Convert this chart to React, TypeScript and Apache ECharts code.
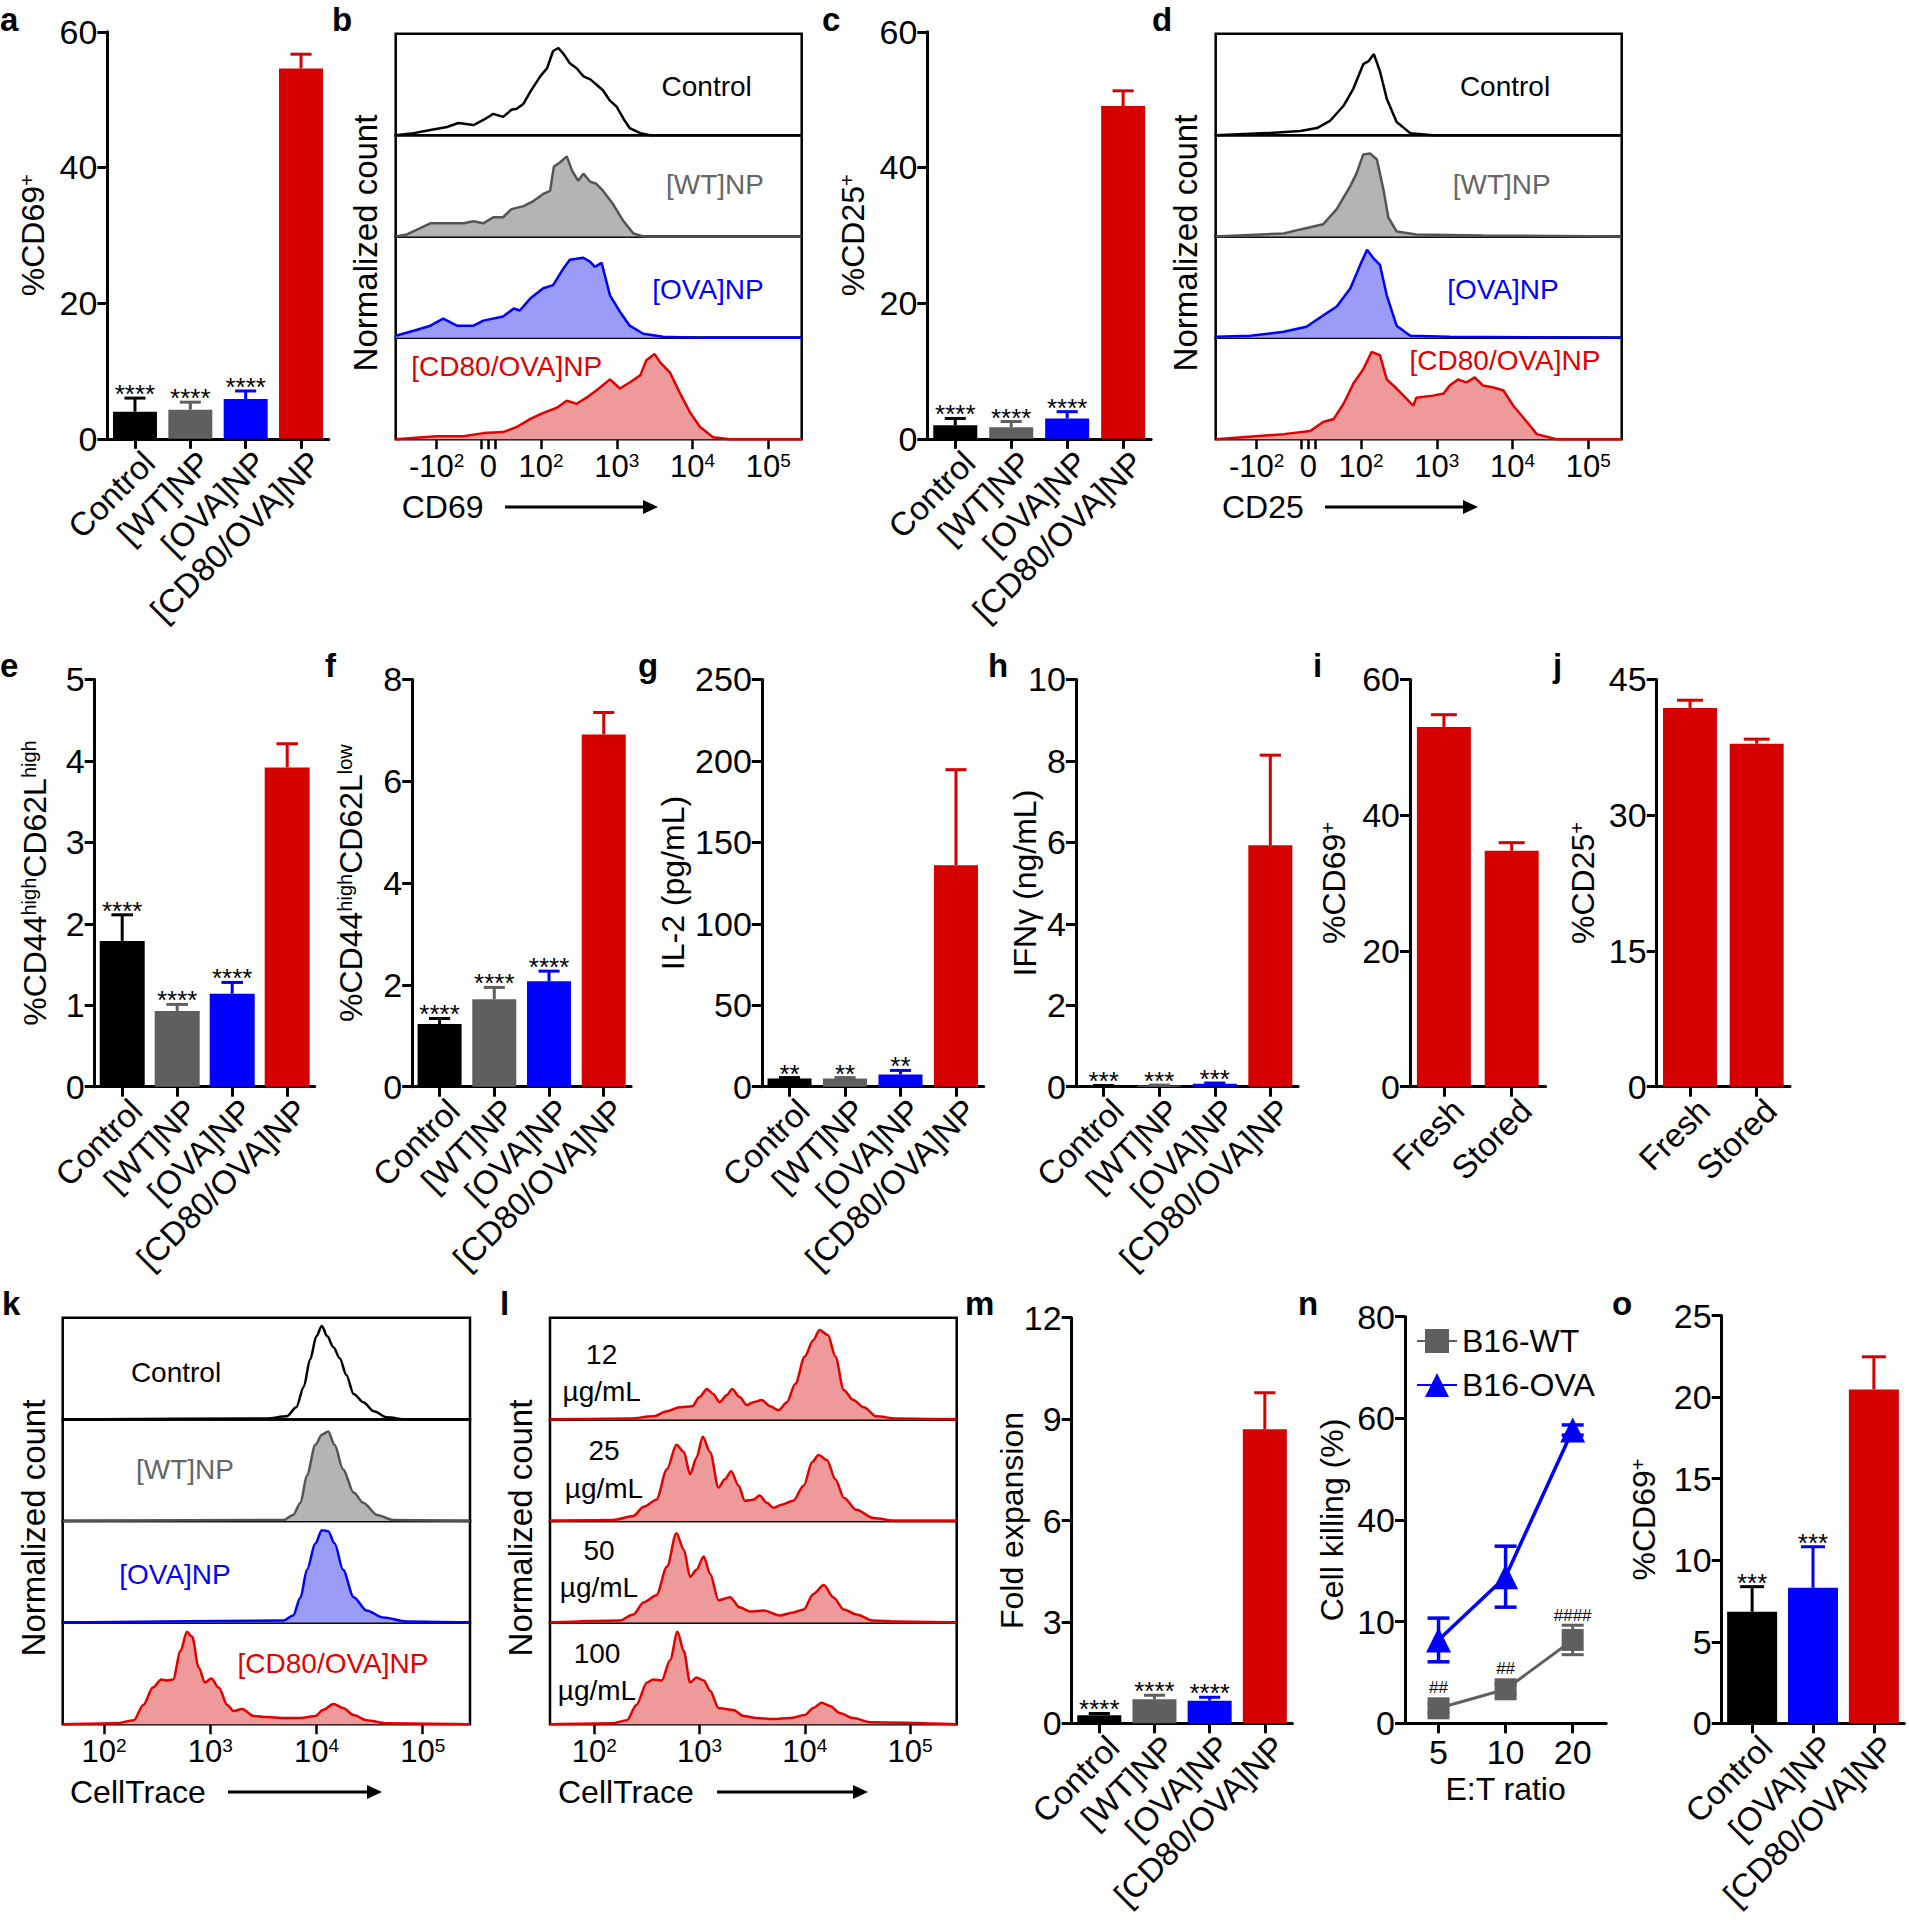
import { useEffect, useRef } from 'react';
import * as echarts from 'echarts';

const FONT = '"Liberation Sans", Arial, Helvetica, sans-serif';
const BLACK = '#000000';
const GRAY = '#5f5f5f';
const BLUE = '#0000ff';
const RED = '#d50000';
const HRED = '#e30000';

// ---------------- categories ----------------
const groups4 = ['Control', '[WT]NP', '[OVA]NP', '[CD80/OVA]NP'];
const groups3 = ['Control', '[OVA]NP', '[CD80/OVA]NP'];
const storage = ['Fresh', 'Stored'];
const etRatios = ['5', '10', '20'];
const doses = ['12', '25', '50', '100'];
const doseUnit = 'µg/mL';
const colors4 = [BLACK, GRAY, BLUE, RED];
const colors3 = [BLACK, BLUE, RED];
const colors2 = [RED, RED];

// ---------------- bar values (mean, SD) ----------------
const aMean = [4.0, 4.3, 5.85, 54.6];
const aErr = [2.0, 1.1, 1.2, 2.1];
const cMean = [2.0, 1.7, 3.0, 49.05];
const cErr = [1.0, 0.85, 1.0, 2.25];
const eMean = [1.79, 0.93, 1.14, 3.92];
const eErr = [0.32, 0.08, 0.14, 0.29];
const fMean = [1.23, 1.72, 2.07, 6.92];
const fErr = [0.11, 0.23, 0.2, 0.43];
const gMean = [5, 5, 7.5, 136];
const gErr = [0.6, 0.6, 2.5, 58.6];
const hMean = [0.02, 0.03, 0.07, 5.93];
const hErr = [0.01, 0.01, 0.02, 2.21];
const iMean = [53.0, 34.75];
const iErr = [1.8, 1.2];
const jMean = [41.84, 37.9];
const jErr = [0.86, 0.5];
const mMean = [0.24, 0.71, 0.67, 8.7];
const mErr = [0.05, 0.12, 0.1, 1.08];
const oMean = [6.84, 8.31, 20.48];
const oErr = [1.54, 2.52, 2.0];

const stars4 = ['****', '****', '****', ''];
const stars4g = ['**', '**', '**', ''];
const stars4h = ['***', '***', '***', ''];
const stars3 = ['***', '***', ''];
const stars2 = ['', ''];

// ---------------- panel n ----------------
const nWTMean = [2.95, 6.69, 16.4];
const nWTErr = [0.8, 0.9, 2.9];
const nOVAMean = [16.4, 28.85, 57.7];
const nOVAErr = [4.3, 6.0, 1.0];
const nWTAnno = ['##', '##', '####'];
const nTickLabels = ['0', '10', '40', '60', '80'];

// ---------------- histogram axes (decade units) ----------------
const biexTicks = [0.624, 1.217, 1.305, 1.393, 2, 3, 4, 5];
const biexLabelPos = [0.624, 1.305, 2, 3, 4, 5];
const biexLabels = ['{b|-10}{s|2}', '{b|0}', '{b|10}{s|2}', '{b|10}{s|3}', '{b|10}{s|4}', '{b|10}{s|5}'];
const logTicks = [2, 3, 4, 5];
const logLabels = ['{b|10}{s|2}', '{b|10}{s|3}', '{b|10}{s|4}', '{b|10}{s|5}'];

// ---------------- histograms: [position, normalized count] ----------------
const bControl = [[0.083, 0], [0.32, 0.02], [0.54, 0.05], [0.76, 0.08], [0.91, 0.12], [1.11, 0.1], [1.24, 0.15], [1.37, 0.21], [1.5, 0.18], [1.61, 0.25], [1.68, 0.26], [1.77, 0.31], [1.86, 0.43], [1.99, 0.58], [2.08, 0.66], [2.16, 0.83], [2.23, 0.86], [2.3, 0.8], [2.38, 0.71], [2.47, 0.66], [2.56, 0.58], [2.65, 0.55], [2.73, 0.5], [2.82, 0.44], [2.91, 0.34], [3.0, 0.28], [3.09, 0.16], [3.17, 0.07], [3.31, 0.02], [3.44, 0], [5.44, 0]];
const bWT = [[0.083, 0], [0.23, 0.02], [0.4, 0.08], [0.54, 0.13], [0.76, 0.13], [0.98, 0.13], [1.11, 0.15], [1.24, 0.13], [1.37, 0.19], [1.5, 0.19], [1.61, 0.27], [1.77, 0.3], [1.9, 0.35], [2.03, 0.42], [2.12, 0.45], [2.17, 0.69], [2.25, 0.73], [2.34, 0.79], [2.41, 0.65], [2.49, 0.55], [2.56, 0.62], [2.65, 0.54], [2.73, 0.52], [2.82, 0.45], [2.95, 0.32], [3.09, 0.15], [3.22, 0.03], [3.35, 0], [5.44, 0]];
const bOVA = [[0.083, 0.02], [0.32, 0.07], [0.54, 0.12], [0.71, 0.19], [0.89, 0.12], [1.11, 0.12], [1.24, 0.17], [1.5, 0.21], [1.64, 0.29], [1.72, 0.27], [1.86, 0.39], [2.03, 0.49], [2.16, 0.52], [2.3, 0.69], [2.38, 0.77], [2.56, 0.79], [2.65, 0.75], [2.71, 0.7], [2.8, 0.74], [2.91, 0.42], [3.04, 0.26], [3.17, 0.12], [3.35, 0.04], [3.61, 0.01], [4.05, 0], [5.44, 0]];
const bCD80 = [[0.083, 0], [0.62, 0.03], [0.98, 0.03], [1.24, 0.06], [1.5, 0.07], [1.68, 0.12], [1.86, 0.2], [2.03, 0.26], [2.21, 0.31], [2.34, 0.38], [2.47, 0.35], [2.6, 0.41], [2.73, 0.48], [2.91, 0.59], [3.04, 0.5], [3.17, 0.56], [3.31, 0.63], [3.39, 0.78], [3.5, 0.84], [3.57, 0.76], [3.7, 0.66], [3.83, 0.46], [3.97, 0.26], [4.1, 0.12], [4.27, 0.02], [4.49, 0], [5.44, 0]];

const dControl = [[0.083, 0], [0.76, 0.02], [1.2, 0.04], [1.42, 0.07], [1.59, 0.14], [1.77, 0.29], [1.9, 0.46], [2.03, 0.7], [2.1, 0.73], [2.17, 0.8], [2.25, 0.63], [2.34, 0.36], [2.47, 0.13], [2.65, 0.02], [2.95, 0], [5.44, 0]];
const dWT = [[0.083, 0], [0.98, 0.03], [1.2, 0.07], [1.5, 0.12], [1.68, 0.27], [1.86, 0.5], [1.94, 0.62], [2.03, 0.81], [2.12, 0.82], [2.21, 0.76], [2.3, 0.45], [2.36, 0.19], [2.47, 0.05], [2.73, 0.02], [3.61, 0.01], [5.44, 0]];
const dOVA = [[0.083, 0.01], [0.54, 0.02], [0.98, 0.06], [1.28, 0.11], [1.5, 0.22], [1.68, 0.31], [1.86, 0.49], [1.99, 0.72], [2.08, 0.87], [2.16, 0.79], [2.25, 0.72], [2.34, 0.42], [2.47, 0.12], [2.65, 0.02], [3.17, 0.01], [5.44, 0]];
const dCD80 = [[0.083, 0], [0.98, 0.05], [1.33, 0.08], [1.5, 0.17], [1.64, 0.2], [1.77, 0.35], [1.9, 0.55], [2.03, 0.69], [2.14, 0.86], [2.25, 0.83], [2.34, 0.59], [2.47, 0.5], [2.6, 0.4], [2.69, 0.33], [2.73, 0.41], [2.95, 0.43], [3.09, 0.45], [3.17, 0.53], [3.28, 0.59], [3.39, 0.56], [3.5, 0.61], [3.61, 0.53], [3.75, 0.51], [3.88, 0.48], [4.01, 0.33], [4.19, 0.17], [4.32, 0.05], [4.58, 0], [5.44, 0]];

const kControl = [[1.611, 0], [3.53, 0.01], [3.72, 0.03], [3.81, 0.12], [3.88, 0.32], [3.94, 0.59], [4.0, 0.82], [4.05, 0.92], [4.1, 0.82], [4.16, 0.71], [4.22, 0.6], [4.28, 0.44], [4.35, 0.25], [4.44, 0.17], [4.54, 0.08], [4.66, 0.02], [4.85, 0], [5.445, 0]];
const kWT = [[1.611, 0], [3.69, 0.01], [3.78, 0.06], [3.85, 0.18], [3.91, 0.45], [3.99, 0.75], [4.05, 0.85], [4.11, 0.88], [4.17, 0.75], [4.25, 0.51], [4.35, 0.28], [4.44, 0.18], [4.57, 0.06], [4.72, 0.01], [5.445, 0]];
const kOVA = [[1.611, 0], [3.69, 0.02], [3.78, 0.07], [3.85, 0.25], [3.91, 0.52], [3.99, 0.78], [4.05, 0.91], [4.11, 0.9], [4.17, 0.78], [4.25, 0.52], [4.35, 0.25], [4.47, 0.12], [4.63, 0.05], [4.85, 0.01], [5.445, 0]];
const kCD80 = [[1.611, 0], [2.12, 0.01], [2.28, 0.04], [2.37, 0.19], [2.46, 0.36], [2.54, 0.44], [2.59, 0.43], [2.65, 0.44], [2.72, 0.72], [2.78, 0.91], [2.83, 0.86], [2.89, 0.56], [2.95, 0.41], [3.01, 0.45], [3.08, 0.36], [3.16, 0.19], [3.22, 0.13], [3.3, 0.15], [3.41, 0.08], [3.53, 0.07], [3.69, 0.06], [3.85, 0.06], [3.99, 0.08], [4.06, 0.14], [4.16, 0.2], [4.25, 0.16], [4.35, 0.09], [4.47, 0.04], [4.66, 0.01], [5.445, 0]];

const l12 = [[1.579, 0], [2.34, 0.01], [2.56, 0.03], [2.69, 0.08], [2.81, 0.12], [2.93, 0.13], [3.0, 0.22], [3.07, 0.3], [3.13, 0.25], [3.19, 0.17], [3.26, 0.24], [3.31, 0.3], [3.38, 0.22], [3.45, 0.14], [3.51, 0.17], [3.59, 0.19], [3.67, 0.13], [3.75, 0.09], [3.83, 0.17], [3.91, 0.35], [4.0, 0.62], [4.08, 0.78], [4.14, 0.88], [4.22, 0.83], [4.29, 0.62], [4.37, 0.29], [4.46, 0.19], [4.56, 0.12], [4.68, 0.03], [4.87, 0.01], [5.443, 0]];
const l25 = [[1.579, 0], [2.18, 0.01], [2.37, 0.05], [2.47, 0.14], [2.59, 0.21], [2.69, 0.51], [2.78, 0.75], [2.85, 0.68], [2.91, 0.46], [2.97, 0.62], [3.03, 0.83], [3.1, 0.68], [3.18, 0.33], [3.24, 0.41], [3.3, 0.49], [3.37, 0.35], [3.43, 0.2], [3.51, 0.21], [3.57, 0.25], [3.64, 0.18], [3.7, 0.13], [3.78, 0.16], [3.89, 0.2], [3.99, 0.35], [4.07, 0.58], [4.13, 0.65], [4.21, 0.6], [4.29, 0.41], [4.37, 0.23], [4.49, 0.11], [4.65, 0.03], [4.87, 0], [5.443, 0]];
const l50 = [[1.579, 0], [2.24, 0.02], [2.37, 0.08], [2.47, 0.2], [2.59, 0.27], [2.69, 0.55], [2.78, 0.88], [2.85, 0.72], [2.91, 0.45], [2.97, 0.52], [3.04, 0.65], [3.1, 0.48], [3.18, 0.22], [3.29, 0.25], [3.38, 0.15], [3.48, 0.11], [3.61, 0.12], [3.76, 0.07], [3.89, 0.1], [3.99, 0.13], [4.08, 0.28], [4.18, 0.37], [4.27, 0.25], [4.37, 0.13], [4.49, 0.08], [4.65, 0.02], [4.87, 0.01], [5.443, 0]];
const l100 = [[1.579, 0], [2.18, 0.01], [2.31, 0.04], [2.4, 0.19], [2.5, 0.41], [2.56, 0.44], [2.64, 0.43], [2.72, 0.63], [2.79, 0.91], [2.85, 0.72], [2.91, 0.41], [2.97, 0.46], [3.04, 0.43], [3.1, 0.33], [3.18, 0.16], [3.32, 0.14], [3.42, 0.08], [3.54, 0.06], [3.7, 0.05], [3.86, 0.06], [4.0, 0.09], [4.08, 0.16], [4.16, 0.21], [4.24, 0.18], [4.33, 0.11], [4.46, 0.06], [4.62, 0.02], [5.443, 0]];

// ---------------- helpers ----------------
const supRich = (n: number, s: number) => ({
  n: { fontSize: n, fontFamily: FONT, color: '#000' },
  s: { fontSize: s, fontFamily: FONT, color: '#000', verticalAlign: 'top' },
  b: { fontSize: n, fontFamily: FONT, color: '#000' },
});

function errorSeries(gi: number, mean: number[], err: number[], colors: string[], opts: any) {
  const both = !!opts.both;
  const capW = opts.capW ?? 22;
  const lw = opts.lw ?? 3;
  const labels: string[] = opts.labels || [];
  const labelSize = opts.labelSize ?? 26;
  const marker = opts.marker ?? 0;
  const gap = opts.gap ?? 4;
  return {
    type: 'custom',
    xAxisIndex: gi,
    yAxisIndex: gi,
    silent: true,
    z: opts.z ?? 3,
    data: mean.map((m, i) => [i, m, err[i]]),
    renderItem: (params: any, api: any) => {
      const k = params.dataIndex;
      const x = api.value(0);
      const m = api.value(1);
      const e = api.value(2);
      const pm = api.coord([x, m]);
      const pt = api.coord([x, m + e]);
      const pb = both ? api.coord([x, m - e]) : pm;
      const col = colors[k];
      const ch: any[] = [
        { type: 'line', shape: { x1: pt[0], y1: pt[1], x2: pb[0], y2: pb[1] }, style: { stroke: col, lineWidth: lw } },
        { type: 'line', shape: { x1: pt[0] - capW / 2, y1: pt[1], x2: pt[0] + capW / 2, y2: pt[1] }, style: { stroke: col, lineWidth: lw } },
      ];
      if (both) {
        ch.push({ type: 'line', shape: { x1: pb[0] - capW / 2, y1: pb[1], x2: pb[0] + capW / 2, y2: pb[1] }, style: { stroke: col, lineWidth: lw } });
      }
      const lab = labels[k];
      if (lab) {
        const yTop = Math.min(pt[1], pm[1] - marker);
        ch.push({
          type: 'text',
          x: pt[0],
          y: yTop - gap,
          style: { text: lab, fill: '#000', font: `${labelSize}px ${FONT}`, textAlign: 'center', textVerticalAlign: 'middle', align: 'center', verticalAlign: 'middle' },
        });
      }
      return { type: 'group', children: ch };
    },
  };
}

function buildOption() {
  const grid: any[] = [];
  const xAxis: any[] = [];
  const yAxis: any[] = [];
  const series: any[] = [];
  const elements: any[] = [];

  const axisLineStyle = { color: '#000', width: 3 };

  // ---------- bar panels ----------
  const barPanels = [
    { left: 107.3, top: 31.8, width: 221.4, height: 407, max: 60, interval: 20, name: '{n|%CD69}{s|+}', nameGap: 58, cats: groups4, colors: colors4, mean: aMean, err: aErr, stars: stars4, barWidth: 44 },
    { left: 927.3, top: 31.8, width: 223.8, height: 407, max: 60, interval: 20, name: '{n|%CD25}{s|+}', nameGap: 58, cats: groups4, colors: colors4, mean: cMean, err: cErr, stars: stars4, barWidth: 44 },
    { left: 94.7, top: 679.4, width: 220, height: 407.3, max: 5, interval: 1, name: '{n|%CD44}{s|high}{n|CD62L}{s|high}', nameGap: 44, cats: groups4, colors: colors4, mean: eMean, err: eErr, stars: stars4, barWidth: 45 },
    { left: 412.2, top: 679.4, width: 218.9, height: 407.3, max: 8, interval: 2, name: '{n|%CD44}{s|high}{n|CD62L}{s|low}', nameGap: 45, cats: groups4, colors: colors4, mean: fMean, err: fErr, stars: stars4, barWidth: 44 },
    { left: 761.8, top: 679.4, width: 221.9, height: 407.3, max: 250, interval: 50, name: '{n|IL-2 (pg/mL)}', nameGap: 73, cats: groups4, colors: colors4, mean: gMean, err: gErr, stars: stars4g, barWidth: 44 },
    { left: 1075.9, top: 679.4, width: 222.2, height: 407.3, max: 10, interval: 2, name: '{n|IFNγ (ng/mL)}', nameGap: 35, cats: groups4, colors: colors4, mean: hMean, err: hErr, stars: stars4h, barWidth: 44 },
    { left: 1410, top: 679.4, width: 135.6, height: 407.3, max: 60, interval: 20, name: '{n|%CD69}{s|+}', nameGap: 60, cats: storage, colors: colors2, mean: iMean, err: iErr, stars: stars2, barWidth: 54 },
    { left: 1656.7, top: 679.4, width: 133.3, height: 407.3, max: 45, interval: 15, name: '{n|%CD25}{s|+}', nameGap: 58, cats: storage, colors: colors2, mean: jMean, err: jErr, stars: stars2, barWidth: 54 },
    { left: 1071.7, top: 1317.7, width: 220.7, height: 405.6, max: 12, interval: 3, name: '{n|Fold expansion}', nameGap: 44, cats: groups4, colors: colors4, mean: mMean, err: mErr, stars: stars4, barWidth: 44 },
    { left: 1721.7, top: 1315.7, width: 182.6, height: 407.6, max: 25, interval: 5, name: '{n|%CD69}{s|+}', nameGap: 62, cats: groups3, colors: colors3, mean: oMean, err: oErr, stars: stars3, barWidth: 50 },
  ];

  barPanels.forEach((p) => {
    const gi = grid.length;
    grid.push({ left: p.left, top: p.top, width: p.width, height: p.height, outerBoundsMode: 'none', containLabel: false });
    xAxis.push({
      gridIndex: gi,
      type: 'category',
      data: p.cats,
      axisLine: { show: true, lineStyle: axisLineStyle },
      axisTick: { show: true, alignWithLabel: true, length: 10, lineStyle: { color: '#000', width: 3 } },
      axisLabel: { rotate: 45, interval: 0, fontSize: 33, fontFamily: FONT, color: '#000', margin: 4, verticalAlign: 'top', lineHeight: 40, hideOverlap: false },
      splitLine: { show: false },
    });
    yAxis.push({
      gridIndex: gi,
      type: 'value',
      min: 0,
      max: p.max,
      interval: p.interval,
      name: p.name,
      nameLocation: 'middle',
      nameGap: p.nameGap,
      nameMoveOverlap: false,
      nameTextStyle: { fontSize: 32, fontFamily: FONT, color: '#000', rich: supRich(32, 20) },
      axisLine: { show: true, lineStyle: axisLineStyle },
      axisTick: { show: true, length: 10, lineStyle: { color: '#000', width: 3 } },
      axisLabel: { fontSize: 34, fontFamily: FONT, color: '#000', margin: 10 },
      splitLine: { show: false },
    });
    series.push({
      type: 'bar',
      xAxisIndex: gi,
      yAxisIndex: gi,
      barWidth: p.barWidth,
      silent: true,
      z: 2,
      data: p.mean.map((v, i) => ({ value: v, itemStyle: { color: p.colors[i] } })),
    });
    series.push(errorSeries(gi, p.mean, p.err, p.colors, { capW: p.barWidth * 0.48, labels: p.stars, labelSize: 26, gap: 4 }));
  });

  // ---------- panel n ----------
  {
    const gi = grid.length;
    grid.push({ left: 1405, top: 1316.7, width: 201.2, height: 406.6, outerBoundsMode: 'none', containLabel: false });
    xAxis.push({
      gridIndex: gi,
      type: 'category',
      data: etRatios,
      name: 'E:T ratio',
      nameLocation: 'middle',
      nameGap: 50,
      nameMoveOverlap: false,
      nameTextStyle: { fontSize: 32, fontFamily: FONT, color: '#000' },
      axisLine: { show: true, lineStyle: axisLineStyle },
      axisTick: { show: true, alignWithLabel: true, length: 10, lineStyle: { color: '#000', width: 3 } },
      axisLabel: { interval: 0, fontSize: 34, fontFamily: FONT, color: '#000', margin: 12 },
    });
    yAxis.push({
      gridIndex: gi,
      type: 'value',
      min: 0,
      max: 80,
      interval: 20,
      name: 'Cell killing (%)',
      nameLocation: 'middle',
      nameGap: 57,
      nameMoveOverlap: false,
      nameTextStyle: { fontSize: 32, fontFamily: FONT, color: '#000' },
      axisLine: { show: true, lineStyle: axisLineStyle },
      axisTick: { show: true, length: 10, lineStyle: { color: '#000', width: 3 } },
      axisLabel: { fontSize: 34, fontFamily: FONT, color: '#000', margin: 10, formatter: (v: number) => nTickLabels[Math.round(v / 20)] },
      splitLine: { show: false },
    });
    series.push(errorSeries(gi, nWTMean, nWTErr, [GRAY, GRAY, GRAY], { both: true, capW: 22, lw: 3, labels: nWTAnno, labelSize: 17, marker: 11, gap: 10, z: 2 }));
    series.push(errorSeries(gi, nOVAMean, nOVAErr, [BLUE, BLUE, BLUE], { both: true, capW: 22, lw: 3.5, z: 2 }));
    series.push({
      type: 'line', name: 'B16-WT', xAxisIndex: gi, yAxisIndex: gi, data: nWTMean,
      symbol: 'rect', symbolSize: 22, itemStyle: { color: GRAY }, lineStyle: { color: GRAY, width: 3 }, z: 4, silent: true,
    });
    series.push({
      type: 'line', name: 'B16-OVA', xAxisIndex: gi, yAxisIndex: gi, data: nOVAMean,
      symbol: 'triangle', symbolSize: 25, itemStyle: { color: BLUE }, lineStyle: { color: BLUE, width: 3.5 }, z: 4, silent: true,
    });
  }

  // ---------- histogram panels ----------
  const histPanels = [
    { left: 395.7, top: 33.8, width: 406, height: 405.4, min: 0.083, max: 5.44, ticks: biexTicks, labelPos: biexLabelPos, labels: biexLabels, smooth: false,
      curves: [
        { data: bControl, line: BLACK, fill: null },
        { data: bWT, line: '#545454', fill: '#b4b4b4' },
        { data: bOVA, line: BLUE, fill: '#9b9bf8' },
        { data: bCD80, line: HRED, fill: '#ef9a9a' },
      ] },
    { left: 1215.7, top: 33.8, width: 406, height: 405.4, min: 0.083, max: 5.44, ticks: biexTicks, labelPos: biexLabelPos, labels: biexLabels, smooth: false,
      curves: [
        { data: dControl, line: BLACK, fill: null },
        { data: dWT, line: '#545454', fill: '#b4b4b4' },
        { data: dOVA, line: BLUE, fill: '#9b9bf8' },
        { data: dCD80, line: HRED, fill: '#ef9a9a' },
      ] },
    { left: 62.7, top: 1317.8, width: 407.3, height: 406.4, min: 1.611, max: 5.445, ticks: logTicks, labelPos: logTicks, labels: logLabels, smooth: 0.3,
      curves: [
        { data: kControl, line: BLACK, fill: null },
        { data: kWT, line: '#545454', fill: '#b4b4b4' },
        { data: kOVA, line: BLUE, fill: '#9b9bf8' },
        { data: kCD80, line: HRED, fill: '#ef9a9a' },
      ] },
    { left: 550, top: 1317.8, width: 406.7, height: 406.4, min: 1.579, max: 5.443, ticks: logTicks, labelPos: logTicks, labels: logLabels, smooth: 0.3,
      curves: [
        { data: l12, line: HRED, fill: '#ef9a9a' },
        { data: l25, line: HRED, fill: '#ef9a9a' },
        { data: l50, line: HRED, fill: '#ef9a9a' },
        { data: l100, line: HRED, fill: '#ef9a9a' },
      ] },
  ];

  histPanels.forEach((p) => {
    const rowH = p.height / 4;
    p.curves.forEach((c, r) => {
      const gi = grid.length;
      grid.push({ left: p.left, top: p.top + r * rowH, width: p.width, height: rowH, show: true, borderColor: '#000', borderWidth: 2.5, backgroundColor: 'rgba(0,0,0,0)', outerBoundsMode: 'none', containLabel: false });
      if (r === 3) {
        xAxis.push({
          gridIndex: gi, type: 'value', min: p.min, max: p.max,
          axisLine: { show: false },
          splitLine: { show: false },
          axisTick: { show: true, customValues: p.ticks, length: 10, lineStyle: { color: '#000', width: 2.5 } },
          axisLabel: {
            show: true, customValues: p.labelPos, margin: 12, fontSize: 31, fontFamily: FONT, color: '#000',
            rich: { b: { fontSize: 31, fontFamily: FONT, color: '#000' }, s: { fontSize: 19, fontFamily: FONT, color: '#000', verticalAlign: 'top' } },
            formatter: (v: number) => {
              const idx = p.labelPos.findIndex((t) => Math.abs(t - v) < 1e-6);
              return idx >= 0 ? p.labels[idx] : '';
            },
          },
        });
      } else {
        xAxis.push({ gridIndex: gi, type: 'value', min: p.min, max: p.max, show: false });
      }
      yAxis.push({ gridIndex: gi, type: 'value', min: 0, max: 1, show: false });
      series.push({
        type: 'line', xAxisIndex: gi, yAxisIndex: gi, data: c.data,
        showSymbol: false, symbol: 'none', smooth: p.smooth, smoothMonotone: 'x', clip: false, silent: true, z: 3,
        lineStyle: { color: c.line, width: 2.5 },
        areaStyle: c.fill ? { color: c.fill, opacity: 1 } : undefined,
      });
    });
  });

  // ---------- texts and decorations ----------
  const text = (t: string, x: number, y: number, size: number, color = '#000', align = 'center', bold = false, rotation = 0) => {
    elements.push({
      type: 'text', x, y, rotation, silent: true, z: 10,
      style: { text: t, fill: color, font: `${bold ? 'bold ' : ''}${size}px ${FONT}`, textAlign: align, align, textVerticalAlign: 'middle', verticalAlign: 'middle' },
    });
  };
  const arrow = (x1: number, x2: number, y: number) => {
    elements.push({ type: 'line', silent: true, z: 10, shape: { x1, y1: y, x2: x2 - 10, y2: y }, style: { stroke: '#000', lineWidth: 3 } });
    elements.push({ type: 'polygon', silent: true, z: 10, shape: { points: [[x2, y], [x2 - 15, y - 7], [x2 - 15, y + 7]] }, style: { fill: '#000' } });
  };

  const letters: [string, number, number][] = [
    ['a', 0, 19], ['b', 332, 19], ['c', 822, 19], ['d', 1152, 19],
    ['e', 0, 665], ['f', 325, 665], ['g', 638, 665], ['h', 988, 665], ['i', 1313, 665], ['j', 1553, 665],
    ['k', 2, 1303], ['l', 500, 1303], ['m', 965, 1303], ['n', 1298, 1303], ['o', 1612, 1303],
  ];
  letters.forEach(([t, x, y]) => text(t, x, y, 33, '#000', 'left', true));

  const labelColors = [BLACK, '#666666', BLUE, HRED];
  const bLabelPos: [number, number][] = [[706.7, 86], [715, 184], [708, 289], [506.7, 366.5]];
  const dLabelPos: [number, number][] = [[1505, 86], [1501.7, 184], [1503, 289], [1505, 360]];
  const kLabelPos: [number, number][] = [[176, 1372.8], [185, 1469], [175, 1574], [333, 1663]];
  [bLabelPos, dLabelPos, kLabelPos].forEach((pos) => pos.forEach(([x, y], i) => text(groups4[i], x, y, 28, labelColors[i])));
  const lDosePos: [number, number, number][] = [[601.7, 1354, 1391], [604, 1450.5, 1488], [599, 1550, 1587], [597, 1653, 1690]];
  lDosePos.forEach(([x, y1, y2], i) => {
    text(doses[i], x, y1, 28);
    text(doseUnit, x, y2, 28);
  });

  // axis titles with arrows
  text('CD69', 401.7, 507, 32, '#000', 'left');
  arrow(505, 658, 507);
  text('CD25', 1222, 507, 32, '#000', 'left');
  arrow(1325, 1478, 507);
  text('CellTrace', 70, 1792, 32, '#000', 'left');
  arrow(228, 382, 1792);
  text('CellTrace', 558, 1792, 32, '#000', 'left');
  arrow(717, 868, 1792);

  // Normalized count
  [[365, 243], [1185, 243], [33.3, 1528], [520.5, 1528]].forEach(([x, y]) => text('Normalized count', x, y, 33, '#000', 'center', false, Math.PI / 2));

  return {
    animation: false,
    backgroundColor: '#ffffff',
    textStyle: { fontFamily: FONT },
    legend: {
      data: ['B16-WT', 'B16-OVA'],
      orient: 'vertical',
      left: 1411,
      top: 1320,
      itemWidth: 40,
      itemHeight: 30,
      itemGap: 12,
      selectedMode: false,
      textStyle: { fontSize: 32, fontFamily: FONT, color: '#000' },
    },
    grid,
    xAxis,
    yAxis,
    series,
    graphic: { elements },
  };
}

export default function App() {
  const ref = useRef<HTMLDivElement>(null);
  useEffect(() => {
    if (!ref.current) return;
    const chart = echarts.init(ref.current, null, { renderer: 'svg' });
    chart.setOption(buildOption() as any);
    return () => chart.dispose();
  }, []);
  return (
    <div
      ref={ref}
      style={{ position: 'absolute', left: 0, top: 0, width: 1909, height: 1920, background: '#ffffff' }}
    />
  );
}
